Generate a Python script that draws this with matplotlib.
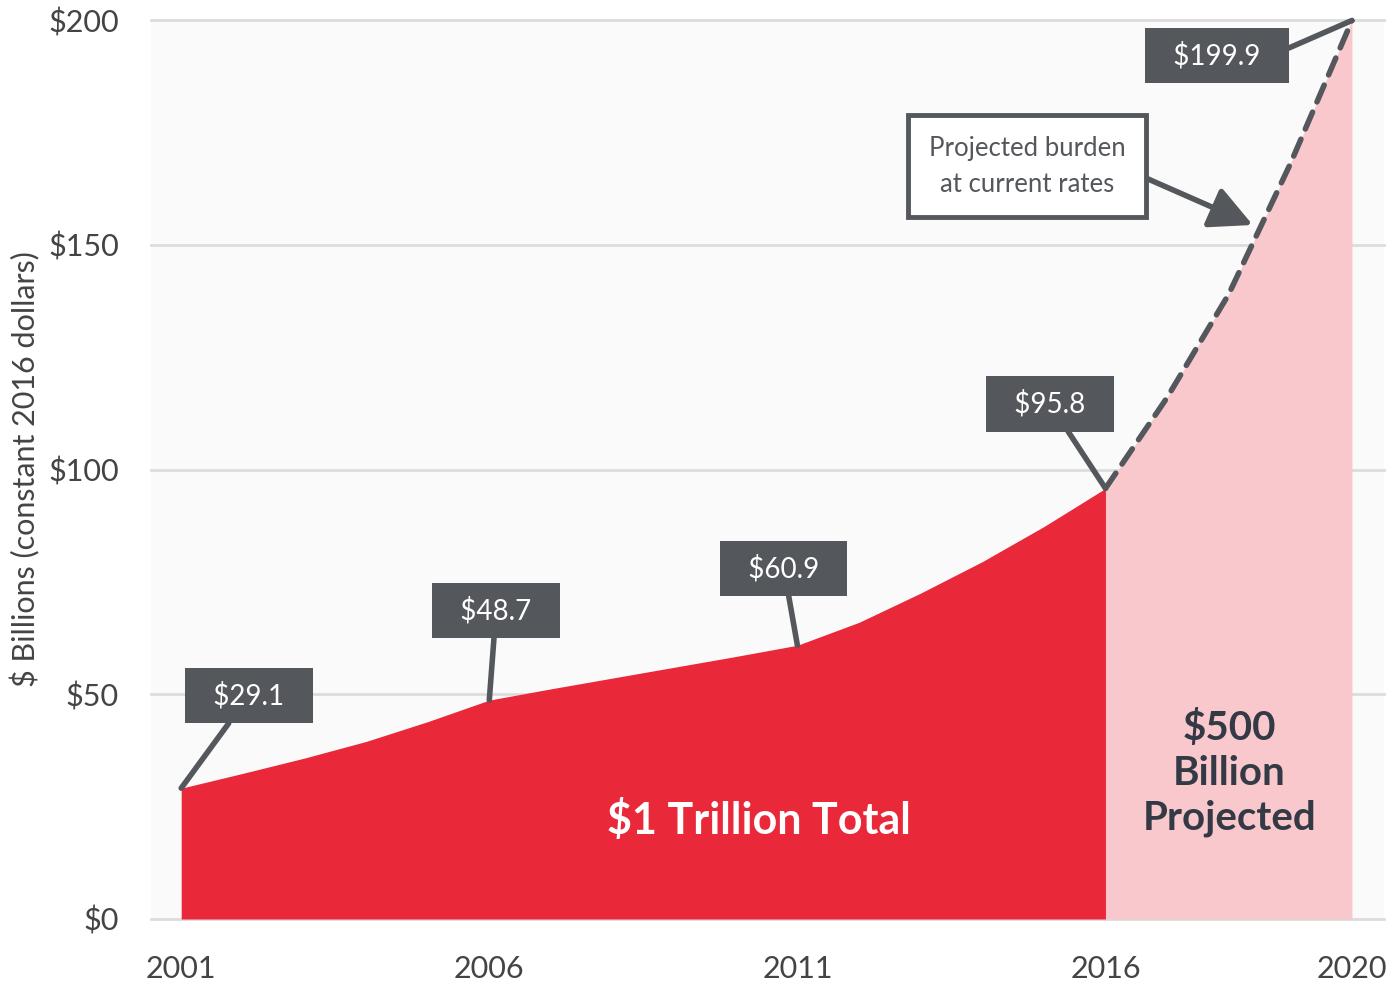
import matplotlib
matplotlib.use("Agg")
from matplotlib import pyplot as plt

plt.rcParams['font.family'] = ['Lato', 'DejaVu Sans']

# actual burden 2001-2016 ($ billions, constant 2016 dollars)
years_actual = [2001, 2002, 2003, 2004, 2005, 2006, 2007, 2008, 2009, 2010,
                2011, 2012, 2013, 2014, 2015, 2016]
burden_actual = [29.1, 32.4, 35.8, 39.5, 43.9, 48.7, 51.2, 53.6, 56.0, 58.4,
                 60.9, 66.0, 72.5, 79.5, 87.3, 95.8]
# projected burden at current rates
years_proj = [2016, 2017, 2018, 2019, 2020]
burden_proj = [95.8, 116.0, 139.0, 168.0, 199.9]

xticks = [2001, 2006, 2011, 2016, 2020]
yticks = [0, 50, 100, 150, 200]
ytick_labels = ['$0', '$50', '$100', '$150', '$200']

# labelled points: (year, value, label text, box centre)
callouts = [
    (2001, 29.1, '$29.1', (2002.10, 49.7)),
    (2006, 48.7, '$48.7', (2006.11, 68.6)),
    (2011, 60.9, '$60.9', (2010.78, 78.0)),
    (2016, 95.8, '$95.8', (2015.10, 114.6)),
]

red = '#e9283a'
pink = '#f9c8cc'
dark = '#54575c'
textc = '#444444'

fig = plt.figure(figsize=(13.98, 9.86), dpi=100)
ax = fig.add_axes([151/1398, 67/986, 1233/1398, 899/986])
ax.set_facecolor('#fafafa')

ax.fill_between(years_actual, burden_actual, 0, color=red, lw=0, zorder=2)
ax.fill_between(years_proj, burden_proj, 0, color=pink, lw=0, zorder=2)
ax.plot(years_proj, burden_proj, color=dark, lw=4, ls=(0, (3.3, 2.0)),
        zorder=3, dash_capstyle='round', solid_joinstyle='round')

for yr, val, txt, pos in callouts:
    ax.annotate('  ' + txt + '  ', xy=(yr, val), xytext=pos, textcoords='data',
                ha='center', va='center', fontsize=20, color='white',
                bbox=dict(boxstyle='square,pad=0.5', fc=dark, ec='none'),
                arrowprops=dict(arrowstyle='-', color=dark, lw=4,
                                shrinkA=0, shrinkB=0),
                zorder=5)

# end point label, leader leaves from the right side
ax.annotate('  $199.9  ', xy=(2020, 199.9), xytext=(2017.81, 192.1),
            textcoords='data', ha='center', va='center', fontsize=20,
            color='white',
            bbox=dict(boxstyle='square,pad=0.5', fc=dark, ec='none'),
            arrowprops=dict(arrowstyle='-', color=dark, lw=4,
                            shrinkA=0, shrinkB=0, relpos=(1, 0.55)),
            zorder=5)

ax.annotate('Projected burden\nat current rates', xy=(2018.39, 154.4),
            xytext=(2014.73, 167.5), textcoords='data', ha='center',
            va='center', fontsize=18.5, color=dark, linespacing=1.55,
            bbox=dict(boxstyle='square,pad=0.8', fc='white', ec=dark, lw=3.5),
            arrowprops=dict(arrowstyle='-|>,head_length=1.4,head_width=0.7',
                            color=dark, lw=4, shrinkA=0, shrinkB=0,
                            relpos=(1, 0.45)),
            zorder=5)

ax.text(2010.37, 22, '$1 Trillion Total', ha='center', va='center',
        fontsize=31, fontweight='bold', color='white', zorder=4)
ax.text(2018.01, 32.5, '$500\nBillion\nProjected', ha='center', va='center',
        fontsize=29, fontweight='bold', color='#333a45', linespacing=1.25,
        zorder=4)

ax.set_xlim(2000.51, 2020.52)
ax.set_ylim(0, 200)
ax.set_xticks(xticks)
ax.set_xticklabels([str(x) for x in xticks])
ax.set_yticks(yticks)
ax.set_yticklabels(ytick_labels)
ax.tick_params(axis='both', length=0, labelsize=22, colors=textc)
ax.tick_params(axis='x', pad=26)
ax.tick_params(axis='y', pad=23)
ax.yaxis.grid(True, color='#dcdcdc', lw=2)
for gl in ax.get_ygridlines():
    gl.set_clip_on(False)
ax.set_axisbelow(True)
for s in ax.spines.values():
    s.set_visible(False)

ax.set_ylabel('$ Billions (constant 2016 dollars)', fontsize=22, color=textc)
ax.yaxis.set_label_coords(-0.09, 0.5)

fig.savefig('out.png', dpi=100)
